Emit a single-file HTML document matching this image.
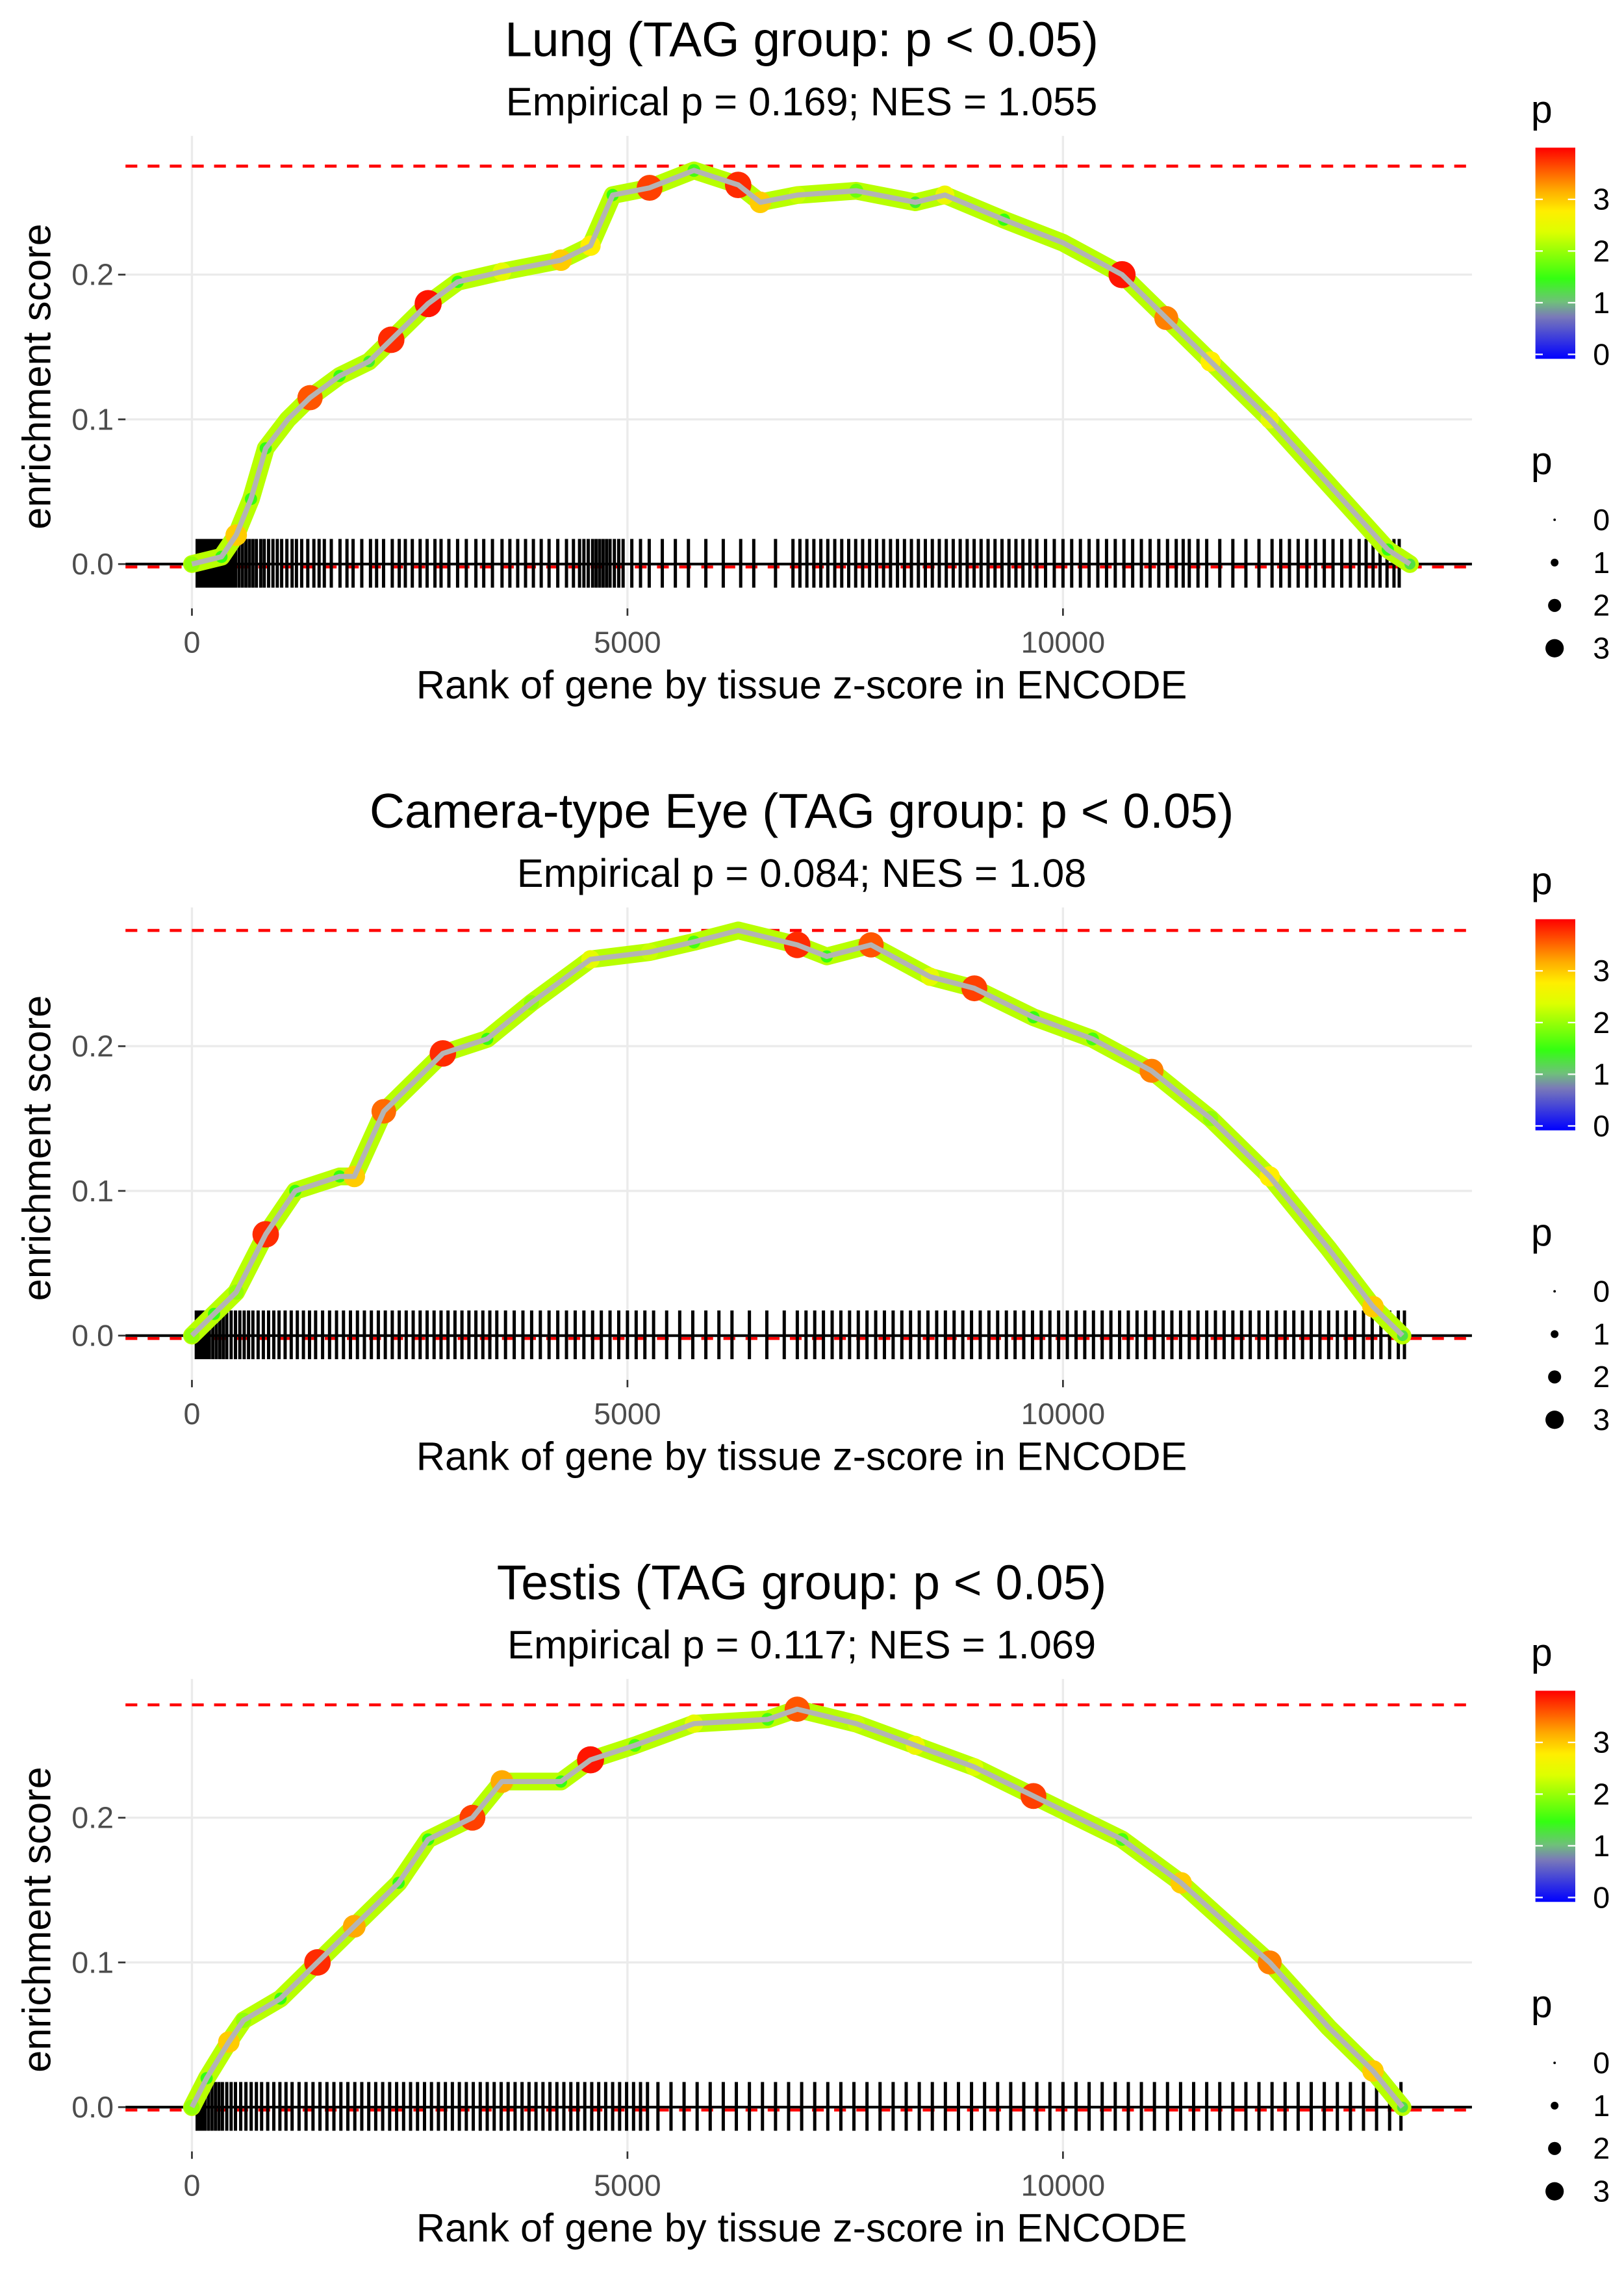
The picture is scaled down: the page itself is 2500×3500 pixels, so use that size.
<!DOCTYPE html>
<html><head><meta charset="utf-8"><style>
html,body{margin:0;padding:0;background:#fff;}
svg{display:block;font-family:"Liberation Sans",sans-serif;}
</style></head><body>
<svg id="chart" width="2500" height="3500" viewBox="0 0 1100 1540" xmlns="http://www.w3.org/2000/svg">
<defs>
<linearGradient id="pgrad" x1="0" y1="1" x2="0" y2="0">
<stop offset="0" stop-color="#0000ff"/><stop offset="0.2" stop-color="#7a7ab8"/>
<stop offset="0.27" stop-color="#6fc07a"/><stop offset="0.38" stop-color="#33ff11"/>
<stop offset="0.6" stop-color="#ddff00"/><stop offset="0.7" stop-color="#ffee00"/>
<stop offset="0.8" stop-color="#ffaa00"/><stop offset="1" stop-color="#ff0000"/>
</linearGradient>
</defs>
</svg>
<script>
const titles = ["Lung (TAG group: p < 0.05)","Camera-type Eye (TAG group: p < 0.05)","Testis (TAG group: p < 0.05)"];
const subtitles = ["Empirical p = 0.169; NES = 1.055","Empirical p = 0.084; NES = 1.08","Empirical p = 0.117; NES = 1.069"];
const xTicks = [0,5000,10000];
const yTicks = [0.0,0.1,0.2];
const maxES = [0.275,0.28,0.278];
const ranks1 = [0,339,508,678,847,1102,1356,1695,2034,2288,2712,3051,3559,4237,4576,4830,5254,5763,6271,6525,6949,7627,8305,8644,9322,10000,10678,11186,11695,12373,13051,13729,13983];
const es1 = [0,0.005,0.02,0.045,0.08,0.1,0.115,0.13,0.14,0.155,0.18,0.195,0.202,0.21,0.22,0.255,0.26,0.272,0.262,0.25,0.255,0.258,0.25,0.255,0.238,0.222,0.2,0.17,0.14,0.1,0.055,0.01,0];
const p1 = [2,1.5,3,1.5,1.5,2.2,3.6,1.5,1.4,3.8,3.9,1.5,2.5,3,2.8,1.5,3.7,1.6,3.8,3,2.3,1.8,1.4,2.6,1.5,2.2,3.9,3.4,2.8,2.5,2.2,1.5,1.3];
const ranks2 = [0,254,508,847,1186,1695,1864,2203,2881,3390,3898,4576,5254,5763,6271,6949,7288,7797,8475,8983,9661,10339,11017,11695,12373,13051,13559,13898];
const es2 = [0,0.015,0.03,0.07,0.1,0.11,0.11,0.155,0.195,0.205,0.23,0.26,0.265,0.272,0.28,0.27,0.262,0.27,0.248,0.24,0.22,0.205,0.183,0.15,0.11,0.06,0.02,0];
const p2 = [2,1.5,2,3.8,1.5,1.5,3,3.5,3.8,1.5,2,2.5,2.3,1.6,2.2,3.8,1.5,3.6,2.5,3.7,1.5,1.6,3.4,2,2.8,2.2,3,1.3];
const ranks3 = [0,169,424,593,1017,1441,1864,2373,2712,3220,3559,4237,4576,5085,5763,6610,6949,7627,8305,8983,9661,10678,11356,12373,13051,13559,13898];
const es3 = [0,0.02,0.045,0.06,0.075,0.1,0.125,0.155,0.185,0.2,0.225,0.225,0.24,0.25,0.265,0.268,0.275,0.265,0.25,0.235,0.215,0.185,0.155,0.1,0.055,0.025,0];
const p3 = [2,1.5,3,2,1.5,3.8,3.2,1.5,1.5,3.7,3.2,1.5,3.9,1.6,2.5,1.6,3.6,2.3,2.6,2.4,3.7,1.6,3,3.4,2.2,3,1.3];
const rug1 = [60,90,120,150,180,200,230,260,290,320,350,380,410,440,470,500,540,580,620,660,700,740,790,830,880,930,980,1030,1090,1150,1200,1260,1330,1400,1460,1520,1600,1700,1780,1850,1950,2050,2120,2200,2300,2380,2450,2530,2620,2700,2790,2860,2950,3050,3150,3260,3350,3450,3560,3650,3740,3830,3920,4010,4100,4200,4300,4380,4450,4500,4550,4600,4640,4680,4720,4760,4800,4850,4900,4950,5050,5150,5250,5400,5550,5700,5900,6100,6300,6450,6700,6900,6980,7060,7140,7220,7300,7380,7460,7540,7620,7700,7780,7860,7940,8020,8100,8180,8260,8340,8420,8500,8580,8660,8740,8820,8900,8980,9060,9140,9220,9300,9380,9460,9540,9620,9700,9800,9900,10000,10100,10200,10300,10400,10500,10600,10700,10800,10900,11000,11100,11200,11300,11380,11450,11550,11650,11800,11950,12100,12250,12400,12500,12600,12700,12800,12900,13000,13100,13200,13300,13400,13480,13560,13640,13720,13800,13860];
const rug2 = [50,80,110,140,170,200,240,280,320,360,400,450,500,550,600,650,700,760,820,880,940,1000,1070,1140,1210,1280,1350,1420,1500,1580,1660,1740,1820,1900,1980,2060,2140,2220,2300,2380,2460,2540,2620,2700,2780,2860,2940,3020,3100,3180,3260,3340,3420,3500,3600,3700,3800,3900,4000,4100,4200,4300,4400,4500,4600,4700,4800,4900,5000,5100,5200,5300,5450,5600,5750,5900,6050,6200,6400,6600,6800,6950,7050,7150,7250,7350,7450,7550,7650,7750,7850,7950,8050,8150,8250,8350,8450,8550,8650,8750,8850,8950,9050,9150,9250,9350,9450,9550,9650,9750,9850,9950,10050,10150,10250,10350,10450,10550,10650,10750,10850,10950,11050,11150,11250,11350,11450,11550,11650,11750,11850,11950,12050,12150,12250,12350,12450,12550,12650,12750,12850,12950,13050,13150,13250,13350,13450,13550,13650,13750,13850,13920];
const rug3 = [60,90,120,150,190,230,270,310,350,400,450,500,560,620,680,740,800,870,940,1010,1080,1150,1230,1310,1390,1470,1550,1630,1710,1790,1870,1950,2030,2110,2190,2270,2350,2430,2510,2590,2670,2750,2830,2910,2990,3070,3150,3230,3310,3390,3470,3550,3630,3710,3790,3870,3950,4030,4110,4190,4270,4350,4430,4510,4590,4670,4750,4830,4910,4990,5070,5150,5230,5350,5500,5650,5800,5950,6100,6250,6400,6550,6700,6850,7000,7150,7300,7450,7600,7750,7900,8050,8200,8350,8500,8650,8800,8950,9100,9250,9400,9550,9700,9850,10000,10150,10300,10450,10600,10750,10900,11050,11200,11350,11500,11650,11800,11950,12100,12250,12400,12550,12700,12850,13000,13150,13300,13450,13600,13750,13880];
const pTicks = [0,1,2,3];

const NS="http://www.w3.org/2000/svg";
const svg=document.getElementById('chart');
function mk(tag,attrs,parent,text){const e=document.createElementNS(NS,tag);for(const k in attrs)e.setAttribute(k,attrs[k]);if(text!==undefined)e.textContent=text;(parent||svg).appendChild(e);return e;}
function xs(r){return 130+r/5000*295;}
function pColor(p){
  const stops=[[0,[0,0,255]],[0.8,[122,122,184]],[1.1,[111,192,122]],[1.5,[51,255,17]],[2.4,[221,255,0]],[2.8,[255,238,0]],[3.2,[255,170,0]],[4,[255,0,0]]];
  for(let i=1;i<stops.length;i++){if(p<=stops[i][0]){const a=stops[i-1],b=stops[i],t=(p-a[0])/(b[0]-a[0]);const c=a[1].map((v,j)=>Math.round(v+(b[1][j]-v)*t));return `rgb(${c})`;}}
  return 'rgb(255,0,0)';
}
function pRad(p){return 1+p*2.1;}
const panels=[[ranks1,es1,p1,rug1],[ranks2,es2,p2,rug2],[ranks3,es3,p3,rug3]];
panels.forEach((pd,i)=>{
  const off=i*522.5;
  const y0=382+off;
  const ys=v=>y0-v/0.1*98;
  const g=mk('g',{},svg);
  
  
  const t=mk('text',{x:543,y:38+off,'text-anchor':'middle','font-size':33},g,titles[i]);
  
  const st=mk('text',{x:543,y:78+off,'text-anchor':'middle','font-size':27},g,subtitles[i]);
  
  xTicks.forEach(v=>{const l=mk('line',{x1:xs(v),x2:xs(v),y1:92+off,y2:412+off,stroke:'#ebebeb','stroke-width':1.5},g);
    
    const tk=mk('line',{x1:xs(v),x2:xs(v),y1:412+off,y2:417+off,stroke:'#333','stroke-width':1.2},g);
    
    const tl=mk('text',{x:xs(v),y:442+off,'text-anchor':'middle','font-size':20.5,fill:'#4d4d4d'},g,String(v));
    });
  yTicks.forEach(v=>{const l=mk('line',{x1:85,x2:997,y1:ys(v),y2:ys(v),stroke:'#ebebeb','stroke-width':1.5},g);
    
    const tk=mk('line',{x1:80,x2:85,y1:ys(v),y2:ys(v),stroke:'#333','stroke-width':1.2},g);
    
    const tl=mk('text',{x:77,y:ys(v)+7,'text-anchor':'end','font-size':20.5,fill:'#4d4d4d'},g,v.toFixed(1));
    });
  const yt=mk('text',{x:0,y:0,'text-anchor':'middle','font-size':27,transform:`translate(34,${255+off}) rotate(-90)`},g,'enrichment score');
  
  const xt=mk('text',{x:543,y:473+off,'text-anchor':'middle','font-size':27},g,'Rank of gene by tissue z-score in ENCODE');
  
  const d1=mk('line',{x1:85,x2:997,y1:ys(maxES[i]),y2:ys(maxES[i]),stroke:'#ff0000','stroke-width':2,'stroke-dasharray':'8 7'},g);
  
  const d2=mk('line',{x1:85,x2:997,y1:ys(-0.002),y2:ys(-0.002),stroke:'#ff0000','stroke-width':2,'stroke-dasharray':'8 7'},g);
  
  pd[3].forEach(r=>{const l=mk('line',{x1:xs(r),x2:xs(r),y1:365+off,y2:398+off,stroke:'#000','stroke-width':2.2},g);
    });
  const z=mk('line',{x1:85,x2:997,y1:y0,y2:y0,stroke:'#000','stroke-width':1.8},g);
  
  const dpath=pd[0].map((r,k)=>(k?'L':'M')+xs(r).toFixed(1)+','+ys(pd[1][k]).toFixed(1)).join(' ');
  const band=mk('path',{d:dpath,fill:'none',stroke:'#b8ff00','stroke-width':12,'stroke-linejoin':'round','stroke-linecap':'round'},g);
  
  pd[0].forEach((r,k)=>{const c=mk('circle',{cx:xs(r),cy:ys(pd[1][k]),r:pRad(pd[2][k]),fill:pColor(pd[2][k])},g);
    });
  const line=mk('path',{d:dpath,fill:'none',stroke:'#b4b4b4','stroke-width':3.5,'stroke-linejoin':'round'},g);
  
  const lg=mk('g',{},g);
  mk('text',{x:1037,y:83+off,'font-size':26},lg,'p');
  mk('rect',{x:1040,y:100+off,width:27,height:143,fill:'url(#pgrad)'},lg);
  pTicks.forEach(v=>{const y=240+off-v*35;
    mk('line',{x1:1040,x2:1045,y1:y,y2:y,stroke:'#fff','stroke-width':1},lg);
    mk('line',{x1:1062,x2:1067,y1:y,y2:y,stroke:'#fff','stroke-width':1},lg);
    mk('text',{x:1079,y:y+7,'font-size':20.5},lg,String(v));});
  const sg=mk('g',{},g);
  mk('text',{x:1037,y:321+off,'font-size':26},sg,'p');
  pTicks.forEach(v=>{const y=352+off+v*29;
    mk('circle',{cx:1053,cy:y,r:pRad(v)*0.85,fill:'#000'},sg);
    mk('text',{x:1079,y:y+7,'font-size':20.5},sg,String(v));});
});
</script>
</body></html>
